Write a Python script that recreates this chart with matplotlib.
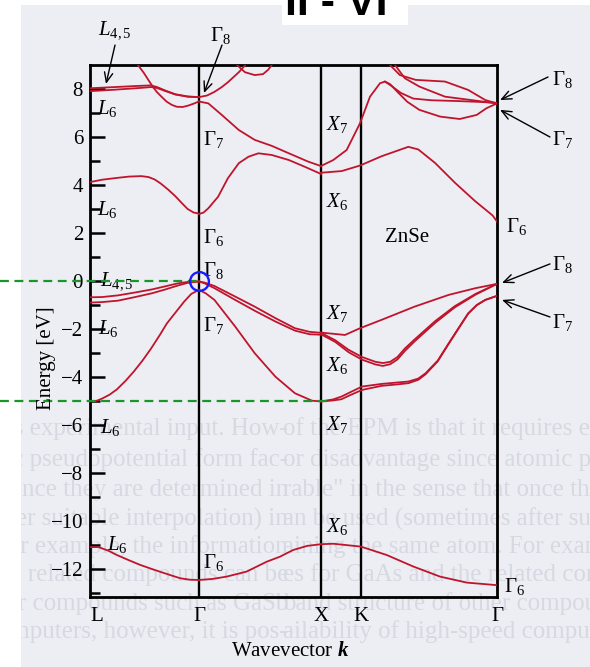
import matplotlib
matplotlib.use("Agg")
import matplotlib.pyplot as plt
from matplotlib.patches import Rectangle

plt.rcParams["font.family"] = ["Liberation Serif", "DejaVu Serif"]
plt.rcParams["mathtext.fontset"] = "custom"
plt.rcParams["mathtext.rm"] = "Liberation Serif"
plt.rcParams["mathtext.it"] = "Liberation Serif:italic"
plt.rcParams["mathtext.bfit"] = "Liberation Serif:italic:bold"

# positions of the high-symmetry points along the k path
K_L, K_G, K_X, K_K, K_G2 = 0.0, 0.893, 1.893, 2.221, 3.336
path_ticks = [K_L, K_G, K_X, K_K, K_G2]
path_names = ["L", "Γ", "X", "K", "Γ"]

# ---- L -> Gamma ----
lg_c1_k = [0.0, 0.2, 0.4, 0.5, 0.55, 0.62, 0.7, 0.8, 0.893]
lg_c1_e = [8.05, 8.1, 8.15, 8.17, 8.1, 7.95, 7.8, 7.71, 7.68]
lg_c2_k = [0.0, 0.2, 0.4, 0.5, 0.55, 0.62, 0.7, 0.8, 0.893]
lg_c2_e = [7.93, 7.99, 8.06, 8.1, 8.06, 7.93, 7.79, 7.7, 7.68]
lg_c3_k = [0.396, 0.44, 0.478, 0.51, 0.547, 0.59, 0.629, 0.67, 0.711, 0.76, 0.806, 0.85, 0.893]
lg_c3_e = [9.0, 8.7, 8.4, 8.15, 7.9, 7.68, 7.49, 7.36, 7.28, 7.27, 7.33, 7.41, 7.5]
lg_c4_k = [0.0, 0.1, 0.23, 0.32, 0.42, 0.48, 0.53, 0.58, 0.64, 0.7, 0.75, 0.8, 0.85, 0.893]
lg_c4_e = [4.14, 4.24, 4.32, 4.37, 4.39, 4.35, 4.25, 4.08, 3.83, 3.55, 3.28, 3.02, 2.87, 2.83]
lg_v1_k = [0.0, 0.1, 0.23, 0.37, 0.51, 0.62, 0.72, 0.8, 0.893]
lg_v1_e = [-0.66, -0.65, -0.58, -0.46, -0.33, -0.2, -0.08, -0.02, 0.0]
lg_v2_k = [0.0, 0.1, 0.23, 0.37, 0.51, 0.62, 0.72, 0.8, 0.893]
lg_v2_e = [-0.88, -0.86, -0.8, -0.65, -0.49, -0.33, -0.17, -0.06, 0.0]
lg_so_k = [0.0, 0.05, 0.1, 0.16, 0.22, 0.29, 0.36, 0.43, 0.5, 0.57, 0.63, 0.7, 0.77, 0.83, 0.893]
lg_so_e = [-5.0, -4.98, -4.88, -4.72, -4.5, -4.15, -3.75, -3.3, -2.8, -2.25, -1.75, -1.3, -0.85, -0.52, -0.35]
lg_s_k = [0.0, 0.07, 0.15, 0.22, 0.32, 0.41, 0.5, 0.57, 0.66, 0.74, 0.82, 0.893]
lg_s_e = [-11.07, -11.07, -11.22, -11.4, -11.62, -11.81, -11.97, -12.09, -12.24, -12.37, -12.43, -12.44]

# ---- Gamma -> X ----
gx_c1_k = [0.893, 0.96, 1.02, 1.08, 1.13, 1.22, 1.27]
gx_c1_e = [7.68, 7.75, 7.9, 8.1, 8.3, 8.72, 9.0]
gx_c2_k = [1.205, 1.27, 1.35, 1.418, 1.46, 1.49]
gx_c2_e = [9.02, 8.72, 8.6, 8.64, 8.82, 9.02]
gx_c3_k = [0.893, 0.97, 1.08, 1.22, 1.35, 1.49, 1.63, 1.79, 1.893]
gx_c3_e = [7.5, 7.42, 6.94, 6.31, 5.9, 5.65, 5.34, 4.99, 4.81]
gx_c4_k = [0.893, 0.93, 0.97, 1.05, 1.13, 1.22, 1.30, 1.38, 1.49, 1.63, 1.76, 1.893]
gx_c4_e = [2.81, 2.87, 3.05, 3.53, 4.3, 4.93, 5.2, 5.34, 5.27, 5.06, 4.78, 4.48]
gx_v1_k = [0.893, 0.94, 1.02, 1.19, 1.35, 1.52, 1.68, 1.8, 1.893]
gx_v1_e = [0.0, -0.05, -0.19, -0.63, -1.05, -1.53, -1.95, -2.1, -2.14]
gx_v2_k = [0.893, 0.94, 1.02, 1.19, 1.35, 1.52, 1.68, 1.8, 1.893]
gx_v2_e = [0.0, -0.08, -0.28, -0.77, -1.22, -1.67, -2.05, -2.2, -2.22]
gx_so_k = [0.893, 0.95, 1.02, 1.19, 1.35, 1.52, 1.68, 1.82, 1.893]
gx_so_e = [-0.35, -0.5, -0.77, -1.88, -2.99, -3.97, -4.66, -4.97, -5.0]
gx_s_k = [0.893, 1.0, 1.12, 1.284, 1.448, 1.557, 1.666, 1.78, 1.893]
gx_s_e = [-12.44, -12.4, -12.3, -12.09, -11.68, -11.47, -11.19, -11.02, -10.95]

# ---- X -> K -> Gamma ----
xg_c1_k = [1.893, 1.994, 2.104, 2.213, 2.295, 2.377, 2.418, 2.46, 2.52, 2.6, 2.7, 2.87, 3.03, 3.17, 3.25, 3.336]
xg_c1_e = [4.81, 5.06, 5.48, 6.59, 7.7, 8.26, 8.33, 8.22, 7.9, 7.49, 7.15, 6.87, 6.77, 6.94, 7.22, 7.42]
xg_c2_k = [2.418, 2.47, 2.55, 2.65, 2.8, 3.0, 3.2, 3.336]
xg_c2_e = [8.33, 8.15, 7.85, 7.62, 7.55, 7.52, 7.48, 7.44]
xg_c3_k = [2.459, 2.54, 2.67, 2.91, 3.1, 3.24, 3.336]
xg_c3_e = [9.02, 8.6, 8.4, 8.33, 7.98, 7.56, 7.42]
xg_c4_k = [2.5, 2.58, 2.7, 2.91, 3.336]
xg_c4_e = [9.02, 8.47, 8.12, 7.7, 7.42]
xg_c5_k = [1.893, 2.063, 2.213, 2.391, 2.609, 2.691, 2.828, 2.992, 3.156, 3.24, 3.30, 3.336]
xg_c5_e = [4.53, 4.6, 4.83, 5.22, 5.61, 5.5, 4.94, 4.11, 3.35, 3.0, 2.75, 2.5]
xg_v1_k = [1.893, 2.09, 2.213, 2.39, 2.66, 2.94, 3.16, 3.336]
xg_v1_e = [-2.13, -2.23, -1.95, -1.6, -1.05, -0.56, -0.28, -0.1]
vv_k = [1.893, 2.01, 2.12, 2.23, 2.34, 2.4, 2.46, 2.52, 2.58, 2.66, 2.83, 2.99, 3.16, 3.336]
xg_v2_e = [-2.14, -2.45, -2.85, -3.15, -3.35, -3.4, -3.35, -3.15, -2.8, -2.42, -1.65, -1.03, -0.52, -0.1]
xg_v3_e = [-2.2, -2.52, -2.95, -3.26, -3.46, -3.52, -3.45, -3.25, -2.9, -2.5, -1.72, -1.08, -0.55, -0.1]
so_k = [1.893, 1.99, 2.06, 2.14, 2.23, 2.39, 2.5, 2.61, 2.69, 2.75, 2.85, 2.94, 3.02, 3.1, 3.17, 3.24, 3.336]
xg_so1_e = [-5.0, -4.92, -4.8, -4.6, -4.38, -4.27, -4.22, -4.17, -4.05, -3.83, -3.3, -2.58, -1.95, -1.33, -0.98, -0.77, -0.6]
xg_so2_e = [-5.0, -4.96, -4.91, -4.72, -4.52, -4.35, -4.3, -4.24, -4.1, -3.87, -3.33, -2.6, -1.97, -1.34, -0.99, -0.77, -0.6]
xg_s_k = [1.893, 1.994, 2.221, 2.432, 2.65, 2.869, 3.088, 3.32, 3.336]
xg_s_e = [-10.95, -10.93, -11.05, -11.4, -11.88, -12.3, -12.55, -12.65, -12.66]

bands = [
    (lg_c1_k, lg_c1_e), (lg_c2_k, lg_c2_e), (lg_c3_k, lg_c3_e), (lg_c4_k, lg_c4_e),
    (lg_v1_k, lg_v1_e), (lg_v2_k, lg_v2_e), (lg_so_k, lg_so_e), (lg_s_k, lg_s_e),
    (gx_c1_k, gx_c1_e), (gx_c2_k, gx_c2_e), (gx_c3_k, gx_c3_e), (gx_c4_k, gx_c4_e),
    (gx_v1_k, gx_v1_e), (gx_v2_k, gx_v2_e), (gx_so_k, gx_so_e), (gx_s_k, gx_s_e),
    (xg_c1_k, xg_c1_e), (xg_c2_k, xg_c2_e), (xg_c3_k, xg_c3_e), (xg_c4_k, xg_c4_e),
    (xg_c5_k, xg_c5_e), (xg_v1_k, xg_v1_e), (vv_k, xg_v2_e), (vv_k, xg_v3_e),
    (so_k, xg_so1_e), (so_k, xg_so2_e), (xg_s_k, xg_s_e),
]

# symmetry labels next to the levels: (k, E, text)
level_labels = [
    (0.057, 7.2, r"$L_6$"), (0.057, 3.0, r"$L_6$"), (0.08, 0.0, r"$L_{4,5}$"),
    (0.066, -1.94, r"$L_6$"), (0.08, -6.1, r"$L_6$"), (0.14, -10.98, r"$L_6$"),
    (0.926, 5.93, r"$\mathit{Γ}_7$"), (0.926, 1.85, r"$\mathit{Γ}_6$"),
    (0.926, 0.45, r"$\mathit{Γ}_8$"), (0.926, -1.85, r"$\mathit{Γ}_7$"),
    (0.926, -11.7, r"$\mathit{Γ}_6$"),
    (1.934, 6.52, r"$X_7$"), (1.934, 3.35, r"$X_6$"), (1.934, -1.35, r"$X_7$"),
    (1.934, -3.52, r"$X_6$"), (1.934, -5.98, r"$X_7$"), (1.934, -10.23, r"$X_6$"),
    (3.41, 2.3, r"$\mathit{Γ}_6$"), (3.39, -12.7, r"$\mathit{Γ}_6$"),
]
# labels outside the frame with arrows: (text, text k, text E, tail k, tail E, tip k, tip E)
arrow_labels = [
    (r"$L_{4,5}$", 0.066, 10.48, 0.205, 9.85, 0.131, 8.23),
    (r"$\mathit{Γ}_8$", 0.98, 10.27, 1.082, 9.85, 0.934, 7.85),
    (r"$\mathit{Γ}_8$", 3.787, 8.4, 3.754, 8.52, 3.361, 7.56),
    (r"$\mathit{Γ}_7$", 3.787, 5.9, 3.77, 6.02, 3.361, 7.15),
    (r"$\mathit{Γ}_8$", 3.787, 0.7, 3.77, 0.73, 3.377, -0.06),
    (r"$\mathit{Γ}_7$", 3.787, -1.7, 3.77, -1.48, 3.377, -0.77),
]

# faint printed page behind the figure: (y px, line of text)
page_lines = [
    (429, "of the EPM is that it requires experimental input. How-"),
    (460, "or disadvantage since atomic pseudopotential form fac-"),
    (490, "rable\" in the sense that once they are determined in"),
    (519, "an be used (sometimes after suitable interpolation) in"),
    (547, "aining the same atom. For example, the information"),
    (575, "es for GaAs and the related compounds can be"),
    (604, "band structure of other compounds such as GaSb"),
    (632, "ailability of high-speed computers, however, it is pos-"),
]

W, H = 590, 667
fig = plt.figure(figsize=(W / 100, H / 100), dpi=100)
fig.patch.set_facecolor("white")
fig.add_artist(Rectangle((21 / W, 0), 1, 1 - 5 / H, transform=fig.transFigure,
                         facecolor="#eceef3", edgecolor="none", zorder=-10))
for y, s in page_lines:
    # the scan repeats each line: its start on the right, its end on the left
    fig.text(283 / W, 1 - y / H, s, fontsize=18, color="#d6d9e2", va="center",
             ha="left", zorder=-8)
    fig.text(288 / W, 1 - y / H, s, fontsize=18, color="#d6d9e2", va="center",
             ha="right", zorder=-8)
fig.add_artist(Rectangle((0, 0), 21 / W, 1, transform=fig.transFigure,
                         facecolor="white", edgecolor="none", zorder=-7))
fig.add_artist(Rectangle((282 / W, 1 - 25 / H), 126 / W, 25 / H, transform=fig.transFigure,
                         facecolor="white", edgecolor="none", zorder=-7))
fig.text(336 / W, 1 - 15 / H, "II - VI", ha="center", va="baseline", fontsize=31,
         fontweight="bold", family="Liberation Sans", color="black")

ax = fig.add_axes([90 / W, 1 - 597 / H, 407 / W, 532 / H])
ax.set_facecolor("none")
ax.set_xlim(K_L, K_G2)
ax.set_ylim(-13.15, 9.02)

red = "#c0142d"
for k, e in bands:
    ax.plot(k, e, color=red, lw=1.3, solid_joinstyle="round", zorder=3)

for kv in (K_G, K_X, K_K):
    ax.axvline(kv, color="black", lw=1.7, zorder=2)
for sp in ax.spines.values():
    sp.set_linewidth(2.0)

ax.set_yticks(range(-12, 9, 2))
ax.set_yticklabels([f"{v}".replace("-", "\u2212") for v in range(-12, 9, 2)])
ax.set_yticks(range(-13, 9, 2), minor=True)
ax.tick_params(axis="y", which="major", direction="in", length=11, width=1.8,
               labelsize=15, pad=5)
ax.tick_params(axis="y", which="minor", direction="in", length=7, width=1.8)
ax.set_xticks(path_ticks)
ax.set_xticklabels(path_names)
ax.tick_params(axis="x", length=0, labelsize=15, pad=7)
ax.get_xticklabels()[0].set_horizontalalignment("left")

for k, e, s in level_labels:
    ax.text(k, e, s, fontsize=15, ha="left", va="center", zorder=4)
ax.text(2.6, 1.85, "ZnSe", fontsize=15, ha="center", va="center")

for s, tk, te, ak, ae, hk, he in arrow_labels:
    ax.text(tk, te, s, fontsize=15, ha="left", va="center", clip_on=False)
    ax.annotate("", xy=(hk, he), xytext=(ak, ae), annotation_clip=False,
                arrowprops=dict(arrowstyle="->,head_length=0.7,head_width=0.3",
                                color="black", lw=1.0, shrinkA=0, shrinkB=0))

# valence-band maximum and the X-point split-off level
green = "#18962a"
ax.plot([-0.738, K_G], [0, 0], ls=(0, (4, 2.5)), color=green, lw=1.6,
        clip_on=False, zorder=5)
ax.plot([-0.738, 1.95], [-5, -5], ls=(0, (4, 2.5)), color=green, lw=1.6,
        clip_on=False, zorder=5)
ax.plot([K_G], [0], marker="o", ms=13.5, mfc="none", mec="#1a1aff", mew=1.7,
        zorder=6, clip_on=False)

fig.text(47 / W, 1 - 358 / H, "Energy [eV]", rotation=90, ha="center", va="center",
         fontsize=15)
fig.text(290 / W, 1 - 652 / H, r"Wavevector $\mathbfit{k}$", ha="center", va="center",
         fontsize=15)

fig.savefig("out.png", dpi=100)
